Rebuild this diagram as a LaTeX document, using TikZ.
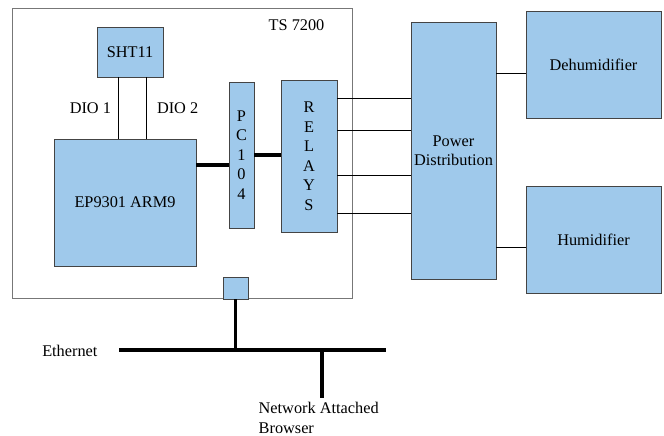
\documentclass[tikz,border=0pt]{standalone}
\usepackage{fontspec}
\setmainfont{Liberation Serif}
\newfontfamily\tnr{Liberation Serif}
\definecolor{boxfill}{HTML}{9FC9EB}
\definecolor{boxline}{HTML}{444444}
\definecolor{boardline}{HTML}{777777}
\begin{document}
\begin{tikzpicture}[x=1pt,y=-1pt,
  every node/.style={font=\tnr\fontsize{16.3}{19.5}\selectfont},
  blk/.style={draw=boxline,fill=boxfill,line width=0.9pt,inner sep=0pt,align=center},
  wire/.style={draw=black,line width=0.7pt},
  bus/.style={draw=black,line width=4pt}]
\useasboundingbox (0,0) rectangle (664,436);
% board
\node[draw=boardline,line width=0.9pt,minimum width=340pt,minimum height=290pt,inner sep=0pt] (board) at (182,153) {};
\node (tslabel) at (296.5,25) {TS 7200};
% blocks
\node[blk,minimum width=66pt,minimum height=50pt] (sht) at (130,52) {SHT11};
\node[blk,minimum width=142pt,minimum height=127pt] (ep) at (125,202.5) {EP9301 ARM9};
\node[blk,minimum width=25pt,minimum height=146pt] (pc) at (241.5,155) {P\\C\\1\\0\\4};
\node[blk,minimum width=56pt,minimum height=152pt] (rel) at (309,156) {R\\E\\L\\A\\Y\\S};
\node[blk,minimum width=85pt,minimum height=257pt] (pd) at (453.5,150.5) {Power\\Distribution};
\node[blk,minimum width=135pt,minimum height=107pt] (dh) at (593.5,64.5) {Dehumidifier};
\node[blk,minimum width=135pt,minimum height=107pt] (hu) at (593.5,239.5) {Humidifier};
\node[blk,minimum width=25pt,minimum height=22pt] (port) at (235.5,288) {};
% DIO wires
\coordinate (d1) at ([xshift=-12pt]sht.south);
\coordinate (d2) at ([xshift=16pt]sht.south);
\draw[wire] (d1) -- (d1 |- ep.north);
\draw[wire] (d2) -- (d2 |- ep.north);
\node[anchor=east] (dio1) at (114.5,108) {DIO 1};
\node[anchor=west] (dio2) at (153.5,108) {DIO 2};
% buses inside board
\coordinate (ep1) at ([yshift=37.5pt]ep.east);
\draw[line width=4pt] (ep1) -- (ep1 -| pc.west);
\coordinate (pc1) at (pc.east);
\draw[line width=4pt] (pc1) -- (pc1 -| rel.west);
% relay outputs
\coordinate (r1) at ([yshift=58pt]rel.east);
\coordinate (r2) at ([yshift=26pt]rel.east);
\coordinate (r3) at ([yshift=-19pt]rel.east);
\coordinate (r4) at ([yshift=-57pt]rel.east);
\foreach \r in {r1,r2,r3,r4} \draw[wire] (\r) -- (\r -| pd.west);
% power outputs
\coordinate (p1) at ([yshift=-8.5pt]dh.west);
\coordinate (p2) at ([yshift=-7.5pt]hu.west);
\draw[wire] (p1 -| pd.east) -- (p1);
\draw[wire] (p2 -| pd.east) -- (p2);
% ethernet
\coordinate (e1) at (119,350);
\coordinate (e2) at (386,350);
\coordinate (nb) at (322,398);
\draw[bus] (e1) -- (e2);
\draw[line width=3.5pt] (port.south) -- (port.south |- e1);
\draw[line width=3.5pt] (nb |- e1) -- (nb);
\node[anchor=east] (ethl) at (101,351) {Ethernet};
\node[anchor=north west,align=left,inner sep=0pt] (nab) at (258.5,402) {Network Attached\\Browser};
\end{tikzpicture}
\end{document}
